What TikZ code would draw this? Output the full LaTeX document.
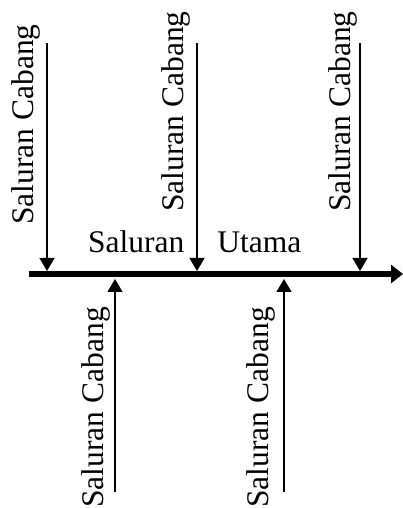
\documentclass[tikz,border=0pt]{standalone}
\usepackage{fontspec}
\setmainfont{Liberation Serif}
\usetikzlibrary{arrows.meta}
\begin{document}
\begin{tikzpicture}[x=1pt,y=1pt,
  mainline/.style={line width=6pt,-{Triangle[length=12pt,width=18pt]}},
  branch/.style={line width=1.3pt,-{Triangle[length=13pt,width=15pt]}},
  lbl/.style={inner sep=0pt,font=\fontsize{31.5}{36}\selectfont},
  vlbl/.style={lbl,rotate=90}]
\useasboundingbox (0,0) rectangle (403,508);
% main channel
\coordinate (ms) at (29,234);
\coordinate (me) at (403,234);
\draw[mainline] (ms) -- (me);
\node[lbl,anchor=base west] (main) at (88,255) {Saluran\hspace{33pt}Utama};
% branches entering from above
\coordinate (a1s) at (47,465);  \coordinate (a1e) at (47,237);
\coordinate (a2s) at (197,465); \coordinate (a2e) at (197,237);
\coordinate (a3s) at (360,465); \coordinate (a3e) at (360,237);
\draw[branch] (a1s) -- (a1e);
\draw[branch] (a2s) -- (a2e);
\draw[branch] (a3s) -- (a3e);
\node[vlbl,anchor=base west] (la1) at (33,283) {Saluran Cabang};
\node[vlbl,anchor=base west] (la2) at (183,296) {Saluran Cabang};
\node[vlbl,anchor=base west] (la3) at (350,296) {Saluran Cabang};
% branches entering from below
\coordinate (b1s) at (115,16); \coordinate (b1e) at (115,229);
\coordinate (b2s) at (284,16); \coordinate (b2e) at (284,229);
\draw[branch] (b1s) -- (b1e);
\draw[branch] (b2s) -- (b2e);
\node[vlbl,anchor=base east] (lb1) at (103,201) {Saluran Cabang};
\node[vlbl,anchor=base east] (lb2) at (268,201) {Saluran Cabang};
\end{tikzpicture}
\end{document}
